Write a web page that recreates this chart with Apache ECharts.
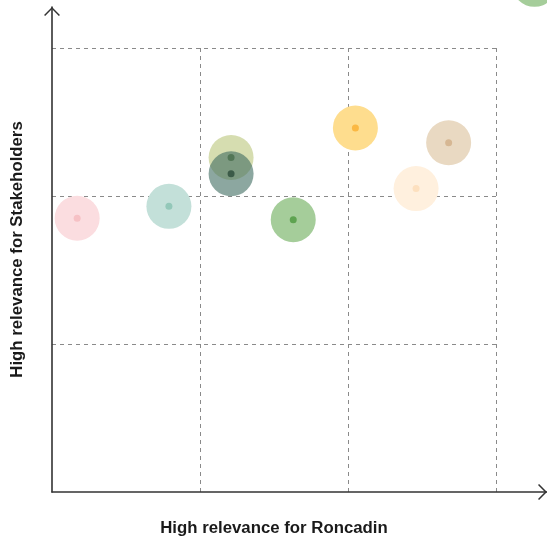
<!DOCTYPE html>
<html>
<head>
<meta charset="utf-8">
<script src="https://cdn.jsdelivr.net/npm/echarts@6/dist/echarts.min.js"></script>
<style>html,body{margin:0;padding:0;background:#fff}#c{width:547px;height:538px}</style>
</head>
<body>
<div id="c"></div>
<script>
// Data (relevance scores, 0-3 scale)
const topics      = ['Topic A','Topic B','Topic C','Topic D','Topic E','Topic F','Topic G','Topic H','Topic I'];
const roncadin    = [0.17, 0.79, 1.21, 1.21, 1.63, 2.05, 2.46, 2.68, 3.26];
const stakeholder = [1.85, 1.93, 2.26, 2.15, 1.84, 2.46, 2.05, 2.36, 3.43];
const fillColors  = ['#fbdde0','#c3e0d9','#d6ddb0','rgba(63,108,97,0.6)','#a5cd9a','#fedd8e','#fff0de','#e9d9c2','#a5cd9a'];
const dotColors   = ['#f6c1c5','#93c8b9','#6f8447','#3c5b48','#5ea350','#fbb843','#fde0bf','#d6b793','#5ea350'];
const xTicks = [0, 1, 2, 3];
const yTicks = [0, 1, 2, 3];
const xTitle = 'High relevance for Roncadin';
const yTitle = 'High relevance for Stakeholders';

const chart = echarts.init(document.getElementById('c'), null, {renderer: 'canvas'});
const arrowPath = 'path://M0,8.8 L9,-0.2 L18,8.8 L16.8,10 L9,2.2 L1.2,10 Z';
const nameStyle = {fontFamily: 'Liberation Sans', fontWeight: 'bold', fontSize: 16.8, color: '#1a1a1a'};

const series = topics.map((t, i) => ({
  type: 'scatter',
  name: t,
  xAxisIndex: 0,
  yAxisIndex: 0,
  clip: false,
  silent: true,
  z: 2 + i,
  data: [
    {value: [roncadin[i], stakeholder[i]], symbolSize: 45, itemStyle: {color: fillColors[i], opacity: 1}},
    {value: [roncadin[i], stakeholder[i]], symbolSize: 7, itemStyle: {color: dotColors[i], opacity: 1}}
  ]
}));

chart.setOption({
  animation: false,
  grid: [
    {left: 52, top: 48, width: 444, height: 444, containLabel: false, outerBoundsMode: 'none'},
    {left: 52, top: 7, right: 0, bottom: 46, containLabel: false, outerBoundsMode: 'none'}
  ],
  xAxis: [
    {
      type: 'value', gridIndex: 0, min: xTicks[0], max: xTicks[xTicks.length - 1], interval: 1,
      axisLine: {show: false}, axisTick: {show: false}, axisLabel: {show: false},
      splitLine: {show: true, showMinLine: false, lineStyle: {color: '#8a8a8a', type: [4, 4], width: 1}},
      name: xTitle, nameLocation: 'middle', nameGap: 28, nameTextStyle: nameStyle
    },
    {
      type: 'value', gridIndex: 1, min: 0, max: 1,
      axisLine: {show: true, lineStyle: {color: '#333', width: 1.6}, symbol: ['none', arrowPath], symbolSize: [17, 9], symbolOffset: [0, -4.5]},
      axisTick: {show: false}, axisLabel: {show: false}, splitLine: {show: false}
    }
  ],
  yAxis: [
    {
      type: 'value', gridIndex: 0, min: yTicks[0], max: yTicks[yTicks.length - 1], interval: 1,
      axisLine: {show: false}, axisTick: {show: false}, axisLabel: {show: false},
      splitLine: {show: true, showMinLine: false, lineStyle: {color: '#8a8a8a', type: [4, 4], width: 1}}
    },
    {
      type: 'value', gridIndex: 1, min: 0, max: 1,
      axisLine: {show: true, lineStyle: {color: '#333', width: 1.6}, symbol: ['none', arrowPath], symbolSize: [17, 9], symbolOffset: [0, -4.5]},
      axisTick: {show: false}, axisLabel: {show: false}, splitLine: {show: false},
      name: yTitle, nameLocation: 'middle', nameGap: 26, nameTextStyle: nameStyle
    }
  ],
  series: series
});
</script>
</body>
</html>
